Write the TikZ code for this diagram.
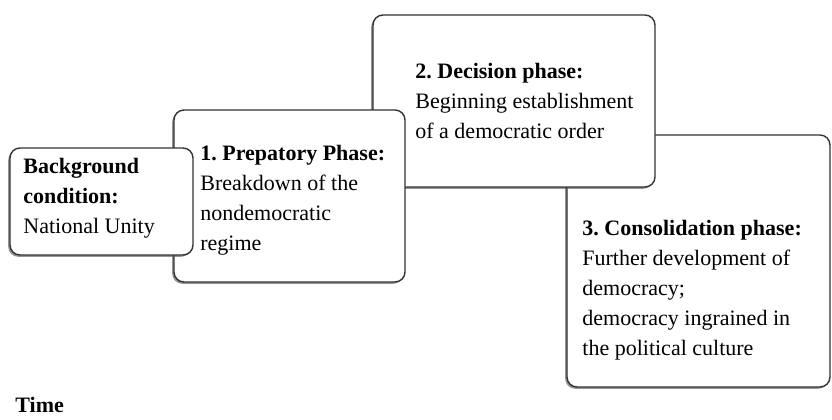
\documentclass[tikz,border=0pt]{standalone}
\usepackage{fontspec}
\setmainfont{Liberation Serif}
\usepackage{tikz}
\usetikzlibrary{shadows}
\frenchspacing

\tikzset{
  phase/.style={draw=black!80,line width=0.7pt,rounded corners=5pt,fill=white,
    drop shadow={shadow xshift=-0.9pt,shadow yshift=-0.9pt,opacity=0.6,fill=black!70}},
  phasetext/.style={anchor=north west,inner sep=0pt,align=left,
    font=\fontsize{11pt}{15pt}\selectfont}
}

\begin{document}
\begin{tikzpicture}[x=0.5pt,y=-0.5pt]
\useasboundingbox (0,0) rectangle (832,419);
% boxes, back to front
\node[phase,minimum width=131.5pt,minimum height=126pt] (P3) at (698.5,261){};
\node[phase,minimum width=141pt,minimum height=86pt] (P2) at (514,101){};
\node[phase,minimum width=115.5pt,minimum height=86pt] (P1) at (289.5,196){};
\node[phase,minimum width=91.5pt,minimum height=53.5pt] (BG) at (101.5,201.5){};

% texts
\node[phasetext] (BGt) at (23,158){\textbf{Background}\\\textbf{condition:}\\National Unity};
\node[phasetext] (P1t) at (200,145){\textbf{1. Prepatory Phase:}\\Breakdown of the\\nondemocratic\\regime};
\node[phasetext] (P2t) at (415,63){\textbf{2. Decision phase:}\\Beginning establishment\\of a democratic order};
\node[phasetext] (P3t) at (582,220){\textbf{3. Consolidation phase:}\\Further development of\\democracy;\\democracy ingrained in\\the political culture};
\node[phasetext,anchor=west] (time) at (15,405){\textbf{Time}};
\end{tikzpicture}
\end{document}
